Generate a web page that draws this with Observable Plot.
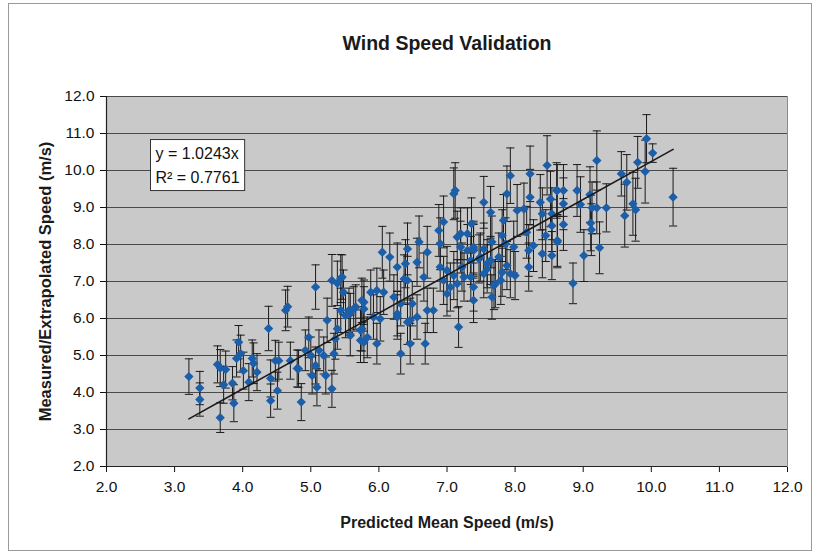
<!DOCTYPE html>
<html><head><meta charset="utf-8">
<script src="https://cdn.jsdelivr.net/npm/d3@7"></script>
<script src="https://cdn.jsdelivr.net/npm/@observablehq/plot@0.6"></script>
<style>
html,body{margin:0;padding:0;background:#fff;}
#wrap{position:relative;width:817px;height:554px;overflow:hidden;}
#chart{position:absolute;left:0;top:0;}
#border{position:absolute;left:8px;top:3px;width:804px;height:548px;border:1px solid #9a9a9a;box-sizing:border-box;pointer-events:none;}
</style></head><body>
<div id="wrap"><div id="border"></div><div id="chart"></div></div>
<script>
// ---- data ----
const title = "Wind Speed Validation";
const xLabel = "Predicted Mean Speed (m/s)";
const yLabel = "Measured/Extrapolated Speed (m/s)";
const slope = 1.0243;
const rSquared = 0.7761;
const xTicks = [2,3,4,5,6,7,8,9,10,11,12];
const yTicks = [2,3,4,5,6,7,8,9,10,11,12];

const predicted = [
 3.21,3.37,3.37,3.63,3.67,3.75,3.72,3.67,3.85,3.87,
 3.94,3.97,3.91,4.01,4.09,4.14,4.16,4.21,4.38,4.41,
 4.41,4.48,4.53,4.51,4.63,4.66,4.70,4.80,4.86,4.82,
 5.07,5.31,5.44,5.39,5.46,5.48,5.44,5.56,5.58,5.51,
 5.24,5.39,4.97,4.92,5.00,5.12,5.19,5.36,5.34,5.58,
 5.07,5.02,5.22,5.09,5.31,6.05,6.16,6.27,5.88,5.97,
 6.07,5.75,5.92,6.02,5.78,5.75,5.73,5.78,5.97,6.27,
 5.66,5.78,5.63,5.73,5.83,6.46,6.42,7.12,7.10,6.95,
 7.36,6.59,6.88,7.15,7.30,6.42,6.71,6.90,7.20,7.39,
 6.39,6.56,6.37,6.66,6.90,6.95,7.15,7.35,7.22,6.22,
 6.32,6.49,6.71,6.80,7.00,7.39,6.27,6.42,6.56,7.17,
 6.46,6.68,6.32,8.47,7.93,8.22,7.88,8.22,8.61,7.54,
 7.64,8.03,8.13,8.37,8.52,8.40,7.83,8.54,8.17,8.45,
 7.81,7.66,8.27,8.62,7.39,7.54,7.86,7.98,8.40,8.54,
 8.20,7.47,7.64,7.76,7.88,8.20,7.59,7.81,8.00,7.71,
 7.66,9.93,10.02,9.20,9.80,9.91,9.56,9.64,8.62,8.71,
 8.91,9.10,8.71,8.96,9.13,9.20,9.34,9.73,9.77,9.61,
 10.32,8.54,8.71,9.11,9.12,8.62,9.24,9.01,8.85,7.00,
 7.10,7.25,7.35,7.30,7.49,7.59,7.54,7.20,7.39,7.05,
 7.69,7.79,7.93,7.39
];
const measured = [
 4.43,4.12,3.81,4.76,4.66,4.62,4.21,3.32,4.25,3.71,
 5.36,5.05,4.92,4.59,4.28,4.92,4.79,4.55,5.73,4.38,
 3.78,4.86,4.86,4.05,6.22,6.32,4.86,4.65,3.74,4.64,
 6.85,7.03,7.08,6.95,7.12,6.71,6.22,6.22,6.13,6.08,
 5.95,5.72,5.49,5.14,5.00,5.14,5.00,5.45,5.05,5.54,
 4.73,4.46,4.46,4.14,4.10,7.79,7.66,7.39,6.71,6.76,
 6.71,6.49,6.04,5.99,6.26,5.72,5.41,5.36,5.32,6.04,
 6.31,6.44,6.26,5.68,5.49,5.95,7.03,9.46,9.37,8.61,
 8.56,8.07,8.38,8.20,8.29,7.88,7.79,8.02,7.93,7.88,
 7.48,7.52,7.07,7.12,7.39,7.03,6.94,7.12,7.39,6.58,
 6.40,6.40,6.22,6.22,6.67,6.49,6.13,5.90,6.04,5.77,
 5.32,5.32,5.05,10.14,9.86,9.91,9.37,9.28,9.46,9.14,
 8.87,8.92,8.96,9.14,9.23,8.83,8.65,8.51,8.33,8.24,
 8.24,8.07,7.97,8.11,7.84,7.88,8.02,7.93,7.75,7.70,
 7.84,7.61,7.57,7.66,7.43,7.39,7.34,7.25,7.16,6.94,
 6.58,10.86,10.47,10.27,10.22,9.97,9.91,9.68,9.46,9.46,
 9.46,9.35,9.10,9.08,8.99,8.99,8.99,9.10,8.94,8.78,
 9.28,8.83,8.54,8.58,8.40,8.07,7.91,7.70,6.95,7.30,
 7.16,7.12,7.57,7.84,7.66,7.48,7.21,8.29,7.93,6.85,
 6.89,7.03,7.21,6.85
];
const errorBar = [
 0.48,0.45,0.45,0.50,0.50,0.50,0.50,0.40,0.45,0.50,
 0.45,0.50,0.50,0.50,0.50,0.50,0.55,0.50,0.60,0.50,
 0.45,0.55,0.50,0.50,0.55,0.55,0.50,0.50,0.50,0.50,
 0.60,0.70,0.65,0.60,0.60,0.60,0.60,0.60,0.55,0.60,
 0.60,0.55,0.55,0.55,0.50,0.55,0.50,0.55,0.55,0.55,
 0.50,0.50,0.50,0.50,0.50,0.70,0.65,0.65,0.60,0.60,
 0.60,0.60,0.60,0.60,0.60,0.60,0.60,0.55,0.55,0.60,
 0.60,0.60,0.60,0.55,0.55,0.60,0.65,0.75,0.70,0.70,
 0.70,0.70,0.70,0.70,0.70,0.70,0.70,0.70,0.70,0.70,
 0.65,0.65,0.65,0.65,0.65,0.65,0.65,0.65,0.65,0.60,
 0.60,0.60,0.60,0.60,0.60,0.60,0.60,0.60,0.60,0.55,
 0.55,0.55,0.55,0.80,0.75,0.75,0.75,0.75,0.75,0.70,
 0.70,0.70,0.70,0.75,0.75,0.70,0.70,0.70,0.70,0.70,
 0.70,0.70,0.70,0.70,0.70,0.70,0.70,0.70,0.65,0.65,
 0.70,0.65,0.65,0.65,0.65,0.65,0.65,0.65,0.65,0.65,
 0.60,0.65,0.25,0.80,0.70,0.85,0.60,0.75,0.70,0.70,
 0.70,0.75,0.70,0.75,0.70,0.70,0.65,0.85,0.85,0.85,
 0.78,0.70,0.70,0.75,0.70,0.70,0.70,0.70,0.55,0.65,
 0.65,0.65,0.65,0.70,0.65,0.65,0.65,0.70,0.70,0.65,
 0.65,0.65,0.65,0.65
];

// ---- build table ----
const rows = predicted.map((x, i) => ({x, y: measured[i], e: errorBar[i]}));
const trend = d3.extent(predicted).map(x => ({x, y: slope * x}));
const capSymbol = {draw(ctx, size) { const w = Math.sqrt(size) / 2; ctx.moveTo(-w, 0); ctx.lineTo(w, 0); }};
const fmt = d => d.toFixed(1);
const font = "'Liberation Sans', Arial, Helvetica, sans-serif";

const chart = Plot.plot({
  width: 817, height: 554,
  marginLeft: 106, marginRight: 30, marginTop: 96, marginBottom: 88,
  style: {fontFamily: font, fontSize: "15.5px", color: "#111", background: "transparent"},
  x: {domain: [xTicks[0], xTicks[xTicks.length - 1]], ticks: xTicks.length - 1, tickFormat: fmt, label: null, tickSize: 6, tickPadding: 8},
  y: {domain: [yTicks[0], yTicks[yTicks.length - 1]], ticks: yTicks.length - 1, tickFormat: fmt, label: null, tickSize: 6, tickPadding: 6},
  marks: [
    Plot.frame({fill: "#c9c9c9", stroke: "#8c8c8c"}),
    Plot.ruleY(yTicks.slice(1), {stroke: "#4a4a4a", strokeWidth: 1}),
    Plot.ruleX(rows, {x: "x", y1: d => d.y - d.e, y2: d => d.y + d.e, stroke: "#1a1a1a", strokeWidth: 1}),
    Plot.dot(rows, {x: "x", y: d => d.y + d.e, symbol: capSymbol, r: 4.6, stroke: "#1a1a1a", fill: "none", strokeWidth: 1}),
    Plot.dot(rows, {x: "x", y: d => d.y - d.e, symbol: capSymbol, r: 4.6, stroke: "#1a1a1a", fill: "none", strokeWidth: 1}),
    Plot.dot(rows, {x: "x", y: "y", symbol: "diamond2", r: 4.2, fill: "#1d5ea8", stroke: "none"}),
    Plot.line(trend, {x: "x", y: "y", stroke: "#1a1a1a", strokeWidth: 1.6}),
    Plot.ruleX([xTicks[0]], {stroke: "#222", strokeWidth: 1.2}),
    Plot.ruleY([yTicks[0]], {stroke: "#222", strokeWidth: 1.2}),
    Plot.text([title], {text: d => d, frameAnchor: "top", lineAnchor: "middle", dy: -53, fontSize: 19.5, fontWeight: "bold", fill: "#1a1a1a"}),
    Plot.text([xLabel], {text: d => d, frameAnchor: "bottom", lineAnchor: "middle", dy: 56, fontSize: 16, fontWeight: "bold", fill: "#1a1a1a"}),
    Plot.text([yLabel], {text: d => d, frameAnchor: "left", textAnchor: "middle", lineAnchor: "middle", dx: -61, rotate: -90, fontSize: 16.5, fontWeight: "bold", fill: "#1a1a1a"}),
    Plot.text([`y = ${slope}x\nR² = ${rSquared}`], {text: d => d, frameAnchor: "top-left", dx: 49, dy: 45, textAnchor: "start", lineAnchor: "top", lineHeight: 1.5, fontSize: 16, fill: "#111"})
  ]
});
document.getElementById("chart").appendChild(chart);

// white box around the regression equation
const svg = chart.tagName.toLowerCase() === "svg" ? chart : chart.querySelector("svg");
const eqText = Array.from(svg.querySelectorAll("text")).find(t => t.textContent.includes(String(slope)));
if (eqText) {
  const g = eqText.parentNode;
  const sb = svg.getBoundingClientRect();
  const bb = g.getBoundingClientRect();
  const rect = document.createElementNS("http://www.w3.org/2000/svg", "rect");
  rect.setAttribute("x", bb.left - sb.left - 5);
  rect.setAttribute("y", bb.top - sb.top - 5);
  rect.setAttribute("width", bb.width + 10);
  rect.setAttribute("height", bb.height + 10);
  rect.setAttribute("fill", "#fff");
  rect.setAttribute("stroke", "#333");
  rect.setAttribute("stroke-width", "1");
  g.parentNode.insertBefore(rect, g);
}
</script></body></html>
